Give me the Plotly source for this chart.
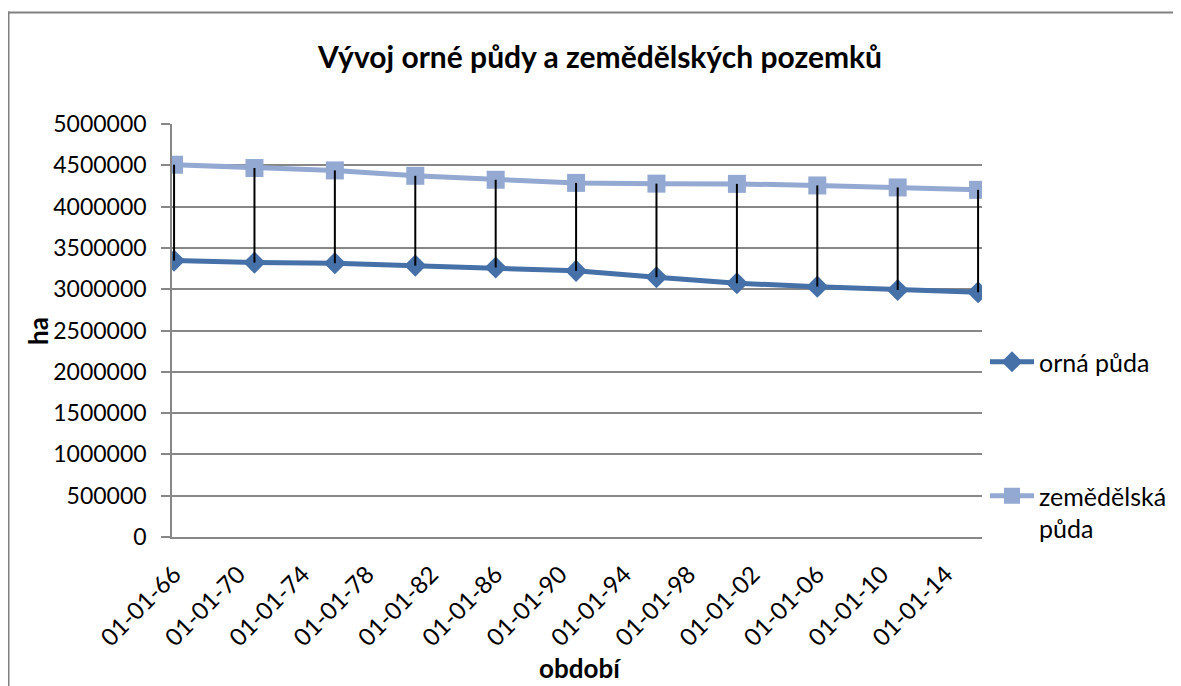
import plotly.graph_objects as go

# Data
dates = ["1966-01-01", "1971-01-01", "1976-01-01", "1981-01-01", "1986-01-01",
         "1991-01-01", "1996-01-01", "2001-01-01", "2006-01-01", "2011-01-01", "2016-01-01"]
orna_puda = [3346000, 3322000, 3315000, 3286000, 3262000, 3222000,
             3145000, 3072000, 3031000, 2991000, 2963000]
zemedelska_puda = [4507000, 4467000, 4438000, 4373000, 4325000, 4287000,
                   4278000, 4275000, 4256000, 4232000, 4203000]
tick_dates = ["1966-01-01", "1970-01-01", "1974-01-01", "1978-01-01", "1982-01-01",
              "1986-01-01", "1990-01-01", "1994-01-01", "1998-01-01", "2002-01-01",
              "2006-01-01", "2010-01-01", "2014-01-01"]
y_ticks = [0, 500000, 1000000, 1500000, 2000000, 2500000, 3000000,
           3500000, 4000000, 4500000, 5000000]

DARK = "#4570A8"
LIGHT = "#93A9D2"
GRID = "#878787"
FONT = "Lato"

fig = go.Figure()

fig.add_trace(go.Scatter(
    x=dates, y=orna_puda, name="orná půda", mode="lines+markers",
    line=dict(color=DARK, width=5),
    marker=dict(symbol="diamond", size=17, color=DARK),
    legend="legend",
))
fig.add_trace(go.Scatter(
    x=dates, y=zemedelska_puda, name="zemědělská<br>půda", mode="lines+markers",
    line=dict(color=LIGHT, width=5),
    marker=dict(symbol="square", size=18, color=LIGHT),
    legend="legend2",
))

# high-low lines
hx, hy = [], []
for d, lo, hi in zip(dates, orna_puda, zemedelska_puda):
    hx += [d, d, None]
    hy += [hi, lo, None]
fig.add_trace(go.Scatter(x=hx, y=hy, mode="lines", line=dict(color="black", width=2),
                         showlegend=False, hoverinfo="skip"))

OFF = 8  # page body margin
W, H = 1181 - OFF, 686 - OFF
# plot area in page pixels
L, R, T, B = 172, 982, 124, 537
pw, ph = R - L, B - T

def px2paper_x(px):
    return (px - L) / pw

def px2paper_y(py):
    return (B - py) / ph

fig.update_layout(
    width=W, height=H,
    margin=dict(l=L - OFF, r=W - (R - OFF), t=T - OFF, b=H - (B - OFF), pad=0,
                autoexpand=False),
    paper_bgcolor="white", plot_bgcolor="white",
    font=dict(family=FONT, size=23, color="black"),
    title=dict(text="<b>Vývoj orné půdy a zemědělských pozemků</b>",
               x=px2paper_x(600), xref="paper", xanchor="center",
               y=1 - (57 - OFF) / H, yanchor="middle",
               font=dict(family=FONT, size=30, color="black")),
    xaxis=dict(
        type="date", range=["1965-11-15", "2016-03-30"],
        tickvals=tick_dates, tickformat="%d-%m-%y", tickangle=-45,
        showgrid=False, showline=True, linecolor=GRID, linewidth=1.5,
        ticks="", zeroline=False, ticklabelstandoff=12, automargin=False,
        tickfont=dict(family=FONT, size=24),
    ),
    yaxis=dict(
        range=[0, 5000000], tickvals=y_ticks, tickformat="d",
        showgrid=True, gridcolor=GRID, gridwidth=1.5,
        showline=True, linecolor=GRID, linewidth=1.5,
        ticks="outside", ticklen=9, tickcolor=GRID, tickwidth=1.5,
        zeroline=False, ticklabelstandoff=10, automargin=False,
        tickfont=dict(family=FONT, size=23),
    ),
    legend=dict(x=px2paper_x(985), y=px2paper_y(362), xanchor="left", yanchor="middle",
                bgcolor="rgba(0,0,0,0)", font=dict(family=FONT, size=25),
                itemwidth=44),
    legend2=dict(x=px2paper_x(985), y=px2paper_y(512), xanchor="left", yanchor="middle",
                 bgcolor="rgba(0,0,0,0)", font=dict(family=FONT, size=25),
                 itemwidth=44, valign="top"),
    showlegend=True,
    annotations=[
        dict(text="<b>ha</b>", xref="paper", yref="paper",
             x=px2paper_x(38), y=px2paper_y(331), textangle=-90,
             showarrow=False, xanchor="center", yanchor="middle",
             font=dict(family=FONT, size=26, color="black")),
        dict(text="<b>období</b>", xref="paper", yref="paper",
             x=px2paper_x(580), y=px2paper_y(668),
             showarrow=False, xanchor="center", yanchor="middle",
             font=dict(family=FONT, size=26, color="black")),
    ],
)

# chart border: top and left edges (the rest lies outside the picture)
fig.add_shape(type="line", xref="paper", yref="paper",
              x0=px2paper_x(7.5), x1=px2paper_x(1190),
              y0=px2paper_y(12.5), y1=px2paper_y(12.5),
              line=dict(color="#808080", width=2), layer="below")
fig.add_shape(type="line", xref="paper", yref="paper",
              x0=px2paper_x(8.5), x1=px2paper_x(8.5),
              y0=px2paper_y(11.5), y1=px2paper_y(700),
              line=dict(color="#808080", width=2), layer="below")

fig.write_html("out.html", config={"displayModeBar": False})
